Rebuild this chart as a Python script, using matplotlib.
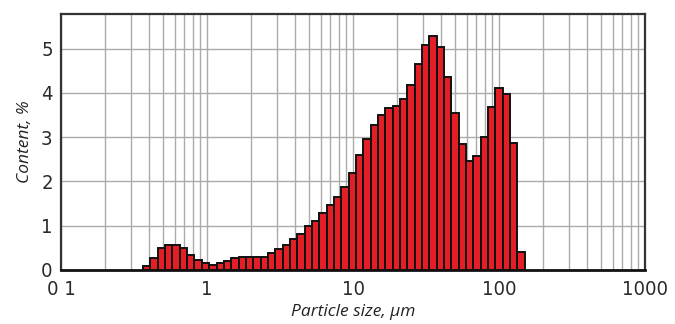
import numpy as np
import matplotlib
matplotlib.use("Agg")
import matplotlib.pyplot as plt
from matplotlib.ticker import FixedLocator, NullFormatter, LogLocator

# size range of the histogram (um)
size_min = 0.365
size_max = 150.0

# content per size class, %
content = [0.10, 0.28, 0.49, 0.56, 0.56, 0.49, 0.34, 0.23, 0.15, 0.11,
           0.16, 0.20, 0.28, 0.30, 0.30, 0.30, 0.30, 0.38, 0.47, 0.56,
           0.70, 0.82, 0.99, 1.10, 1.29, 1.46, 1.64, 1.87, 2.20, 2.60,
           2.96, 3.27, 3.50, 3.65, 3.71, 3.86, 4.18, 4.64, 5.08, 5.28,
           5.04, 4.36, 3.54, 2.84, 2.46, 2.58, 3.01, 3.69, 4.12, 3.97,
           2.87, 0.40]

xticks = [0.1, 1, 10, 100, 1000]
xticklabels = ["0 1", "1", "10", "100", "1000"]
yticks = [0, 1, 2, 3, 4, 5]

plt.rcParams['font.family'] = ['DejaVu Sans']
plt.rcParams['font.stretch'] = 'condensed'

edges = np.geomspace(size_min, size_max, len(content) + 1)

fig = plt.figure(figsize=(6.75, 3.24), dpi=100)
ax = fig.add_axes([0.0904, 0.1667, 0.8652, 0.7901])

ax.bar(edges[:-1], content, width=np.diff(edges), align='edge',
       color='#e41e26', edgecolor='#111111', linewidth=1.4, zorder=3)

ax.set_xscale('log')
ax.set_xlim(0.1, 1000)
ax.set_ylim(0, 5.78)

ax.xaxis.set_major_locator(FixedLocator(xticks))
ax.set_xticklabels(xticklabels)
ax.xaxis.set_minor_locator(LogLocator(base=10, subs=np.arange(2, 10)))
ax.xaxis.set_minor_formatter(NullFormatter())
ax.set_yticks(yticks)

ax.grid(True, which='both', axis='x', color='#ababab', linewidth=1.0, zorder=0)
ax.grid(True, which='major', axis='y', color='#ababab', linewidth=1.0, zorder=0)
ax.set_axisbelow(True)

ax.tick_params(axis='both', which='both', length=0, labelsize=14.5,
               labelcolor='#2a2a2a')
ax.tick_params(axis='x', pad=7)
ax.tick_params(axis='y', pad=6)

for s in ax.spines.values():
    s.set_color('#333333')
    s.set_linewidth(1.6)
ax.spines['bottom'].set_linewidth(2.0)
ax.spines['bottom'].set_color('#111111')

ax.set_xlabel("Particle size, µm", fontsize=12.5, style='italic',
              family=['Open Sans', 'DejaVu Sans'], stretch='normal',
              color='#222222', labelpad=4)
ax.set_ylabel("Content, %", fontsize=12.5, style='italic',
              family=['Open Sans', 'DejaVu Sans'], stretch='normal',
              color='#222222', labelpad=6)

fig.savefig("out.png", dpi=100)
